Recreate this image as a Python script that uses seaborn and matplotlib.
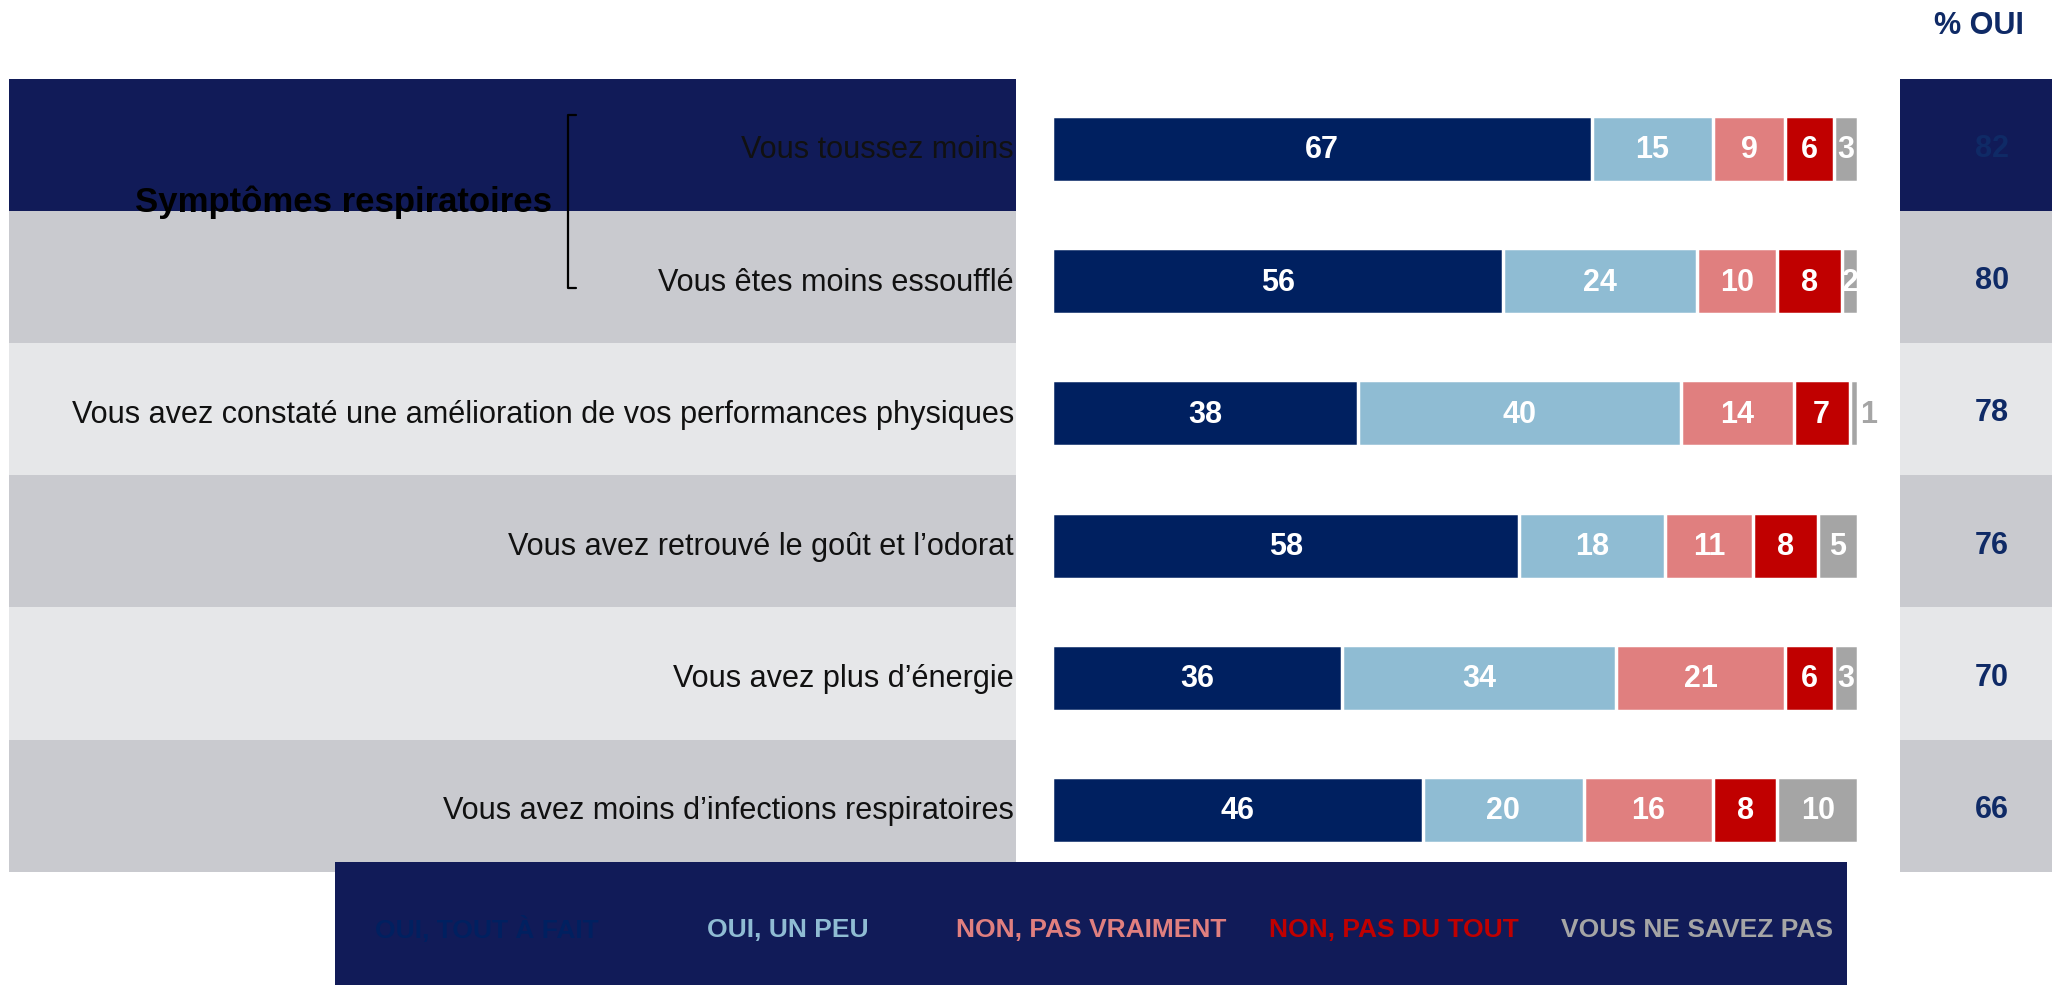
import numpy as np
import pandas as pd
import matplotlib
matplotlib.use("Agg")
import matplotlib.pyplot as plt
import matplotlib.transforms as mtransforms
from matplotlib.patches import Rectangle
import seaborn as sns

# Data
items = [
    "Vous toussez moins",
    "Vous êtes moins essoufflé",
    "Vous avez constaté une amélioration de vos performances physiques",
    "Vous avez retrouvé le goût et l\u2019odorat",
    "Vous avez plus d\u2019énergie",
    "Vous avez moins d\u2019infections respiratoires",
]
answers = ["OUI, TOUT À FAIT", "OUI, UN PEU", "NON, PAS VRAIMENT", "NON, PAS DU TOUT", "VOUS NE SAVEZ PAS"]
oui_tout = [67, 56, 38, 58, 36, 46]
oui_peu = [15, 24, 40, 18, 34, 20]
non_vraiment = [9, 10, 14, 11, 21, 16]
non_tout = [6, 8, 7, 8, 6, 8]
nsp = [3, 2, 1, 5, 3, 10]
pct_oui = [82, 80, 78, 76, 70, 66]
group_label = "Symptômes respiratoires"

colors = ["#002060", "#8FBCD3", "#E07F7F", "#C00000", "#A5A5A5"]
navy_band = "#111B58"
band_colors = [navy_band, "#C9CACF", "#E6E7E9", "#C9CACF", "#E6E7E9", "#C9CACF"]

W, H = 2052, 985
sns.set_theme(style="white")
plt.rcParams["font.family"] = ["Liberation Sans", "DejaVu Sans"]

fig = plt.figure(figsize=(W / 100, H / 100), dpi=100)
ax = fig.add_axes([0, 0, 1, 1])

vals = np.array([oui_tout, oui_peu, non_vraiment, non_tout, nsp]).T
cum = vals.cumsum(axis=1)

# stacked bars: draw cumulative totals from the outermost inwards
for k in reversed(range(5)):
    df = pd.DataFrame({"item": items, "value": cum[:, k]})
    sns.barplot(data=df, x="value", y="item", orient="h", color=colors[k],
                saturation=1, width=0.5, edgecolor="white", linewidth=2.5, ax=ax, zorder=3)

# map data to pixel layout: x 0 -> px 1052, 100 -> px 1858 ; row i center -> px 149 + 132.2*i
px_per_unit = 8.06
x0 = 1052
ax.set_xlim(-x0 / px_per_unit, (W - x0) / px_per_unit)
row_h = 132.2
y0 = 149
ax.set_ylim((H - y0) / row_h, -y0 / row_h)
ax.axis("off")

def fx(px):
    return px / W

def fy(px):
    return 1 - px / H

blend = mtransforms.blended_transform_factory(fig.transFigure, ax.transData)

# row background bands
for i, c in enumerate(band_colors):
    top = i - 0.533
    ax.add_patch(Rectangle((fx(9), top), fx(1016) - fx(9), 1.0, transform=blend,
                           facecolor=c, edgecolor="none", zorder=0))
    ax.add_patch(Rectangle((fx(1900), top), fx(W) - fx(1900), 1.0, transform=blend,
                           facecolor=c, edgecolor="none", zorder=0))

# category labels
for i, lab in enumerate(items):
    ax.text(fx(1014), i + 0.01, lab, transform=blend, ha="right", va="center",
            fontsize=22.1, color="#111111", zorder=4)

# value labels in segments
for i in range(len(items)):
    for k in range(5):
        v = vals[i, k]
        mid = cum[i, k] - v / 2
        if v < 2:
            ax.text(cum[i, k] + 1.3, i + 0.01, str(v), ha="center", va="center", fontsize=22,
                    fontweight="bold", color="#A5A5A5", zorder=5)
        else:
            ax.text(mid, i + 0.01, str(v), ha="center", va="center", fontsize=22,
                    fontweight="bold", color="white", zorder=5)

# % OUI column
for i, v in enumerate(pct_oui):
    ax.text(fx(1992), i, str(v), transform=blend, ha="center", va="center",
            fontsize=22, fontweight="bold", color="#0F2A66", zorder=4)
fig.text(fx(1979), fy(26), "% OUI", ha="center", va="center", fontsize=22,
         fontweight="bold", color="#0F2A66")

# group label with bracket
fig.text(fx(552), fy(202), group_label, ha="right", va="center", fontsize=25,
         fontweight="bold", color="black", zorder=6)
bx = [fx(576), fx(568), fx(568), fx(576)]
by = [fy(115), fy(115), fy(288), fy(288)]
fig.add_artist(plt.Line2D(bx, by, transform=fig.transFigure, color="black", lw=1.6))

# legend box
fig.add_artist(Rectangle((fx(335), fy(985)), fx(1847) - fx(335), fy(862) - fy(985),
                         transform=fig.transFigure, facecolor=navy_band, edgecolor="none", zorder=5))
leg_x = [487, 788, 1091, 1394, 1697]
for lab, c, x in zip(answers, colors, leg_x):
    fig.text(fx(x), fy(930), lab, ha="center", va="center", fontsize=19,
             fontweight="bold", color=c, zorder=6)

fig.savefig("out.png", dpi=100, facecolor="white")
